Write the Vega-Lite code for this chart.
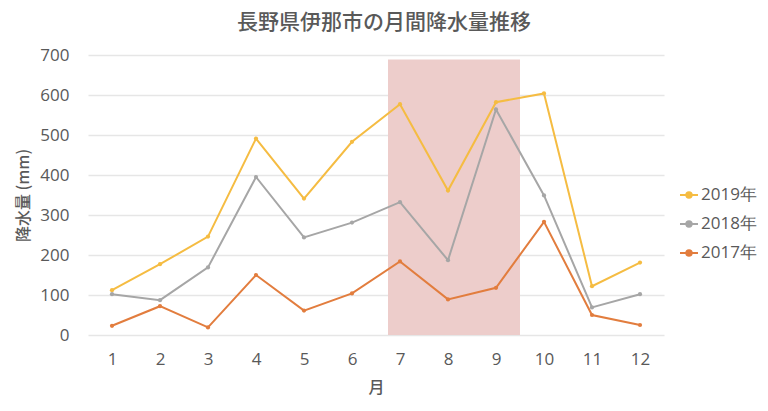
{
  "$schema": "https://vega.github.io/schema/vega-lite/v6.json",
  "autosize": "none",
  "width": 576,
  "height": 280,
  "padding": {"left": 88, "top": 55, "right": 104, "bottom": 76},
  "background": "white",
  "title": {
    "text": "長野県伊那市の月間降水量推移",
    "font": "Noto Sans CJK JP",
    "fontSize": 21,
    "fontWeight": 500,
    "color": "#595959",
    "anchor": "middle",
    "dx": 8,
    "offset": 13
  },
  "datasets": {
    "rain": [
      {"month": 1, "year": "2019年", "mm": 112},
      {"month": 2, "year": "2019年", "mm": 177},
      {"month": 3, "year": "2019年", "mm": 246},
      {"month": 4, "year": "2019年", "mm": 491},
      {"month": 5, "year": "2019年", "mm": 341},
      {"month": 6, "year": "2019年", "mm": 483},
      {"month": 7, "year": "2019年", "mm": 577},
      {"month": 8, "year": "2019年", "mm": 361},
      {"month": 9, "year": "2019年", "mm": 582},
      {"month": 10, "year": "2019年", "mm": 604},
      {"month": 11, "year": "2019年", "mm": 122},
      {"month": 12, "year": "2019年", "mm": 181},
      {"month": 1, "year": "2018年", "mm": 102},
      {"month": 2, "year": "2018年", "mm": 87},
      {"month": 3, "year": "2018年", "mm": 169},
      {"month": 4, "year": "2018年", "mm": 395},
      {"month": 5, "year": "2018年", "mm": 244},
      {"month": 6, "year": "2018年", "mm": 281},
      {"month": 7, "year": "2018年", "mm": 332},
      {"month": 8, "year": "2018年", "mm": 187},
      {"month": 9, "year": "2018年", "mm": 564},
      {"month": 10, "year": "2018年", "mm": 349},
      {"month": 11, "year": "2018年", "mm": 69},
      {"month": 12, "year": "2018年", "mm": 102},
      {"month": 1, "year": "2017年", "mm": 23},
      {"month": 2, "year": "2017年", "mm": 72},
      {"month": 3, "year": "2017年", "mm": 19},
      {"month": 4, "year": "2017年", "mm": 150},
      {"month": 5, "year": "2017年", "mm": 61},
      {"month": 6, "year": "2017年", "mm": 104},
      {"month": 7, "year": "2017年", "mm": 184},
      {"month": 8, "year": "2017年", "mm": 89},
      {"month": 9, "year": "2017年", "mm": 118},
      {"month": 10, "year": "2017年", "mm": 283},
      {"month": 11, "year": "2017年", "mm": 50},
      {"month": 12, "year": "2017年", "mm": 25}
    ],
    "band": [{"month": 6.75, "end": 9.5, "mm": 0, "top": 689}]
  },
  "encoding": {
    "x": {
      "field": "month",
      "type": "quantitative",
      "title": "月",
      "scale": {"domain": [0.5, 12.5], "nice": false, "zero": false},
      "axis": {
        "tickCount": 12,
        "tickMinStep": 1,
        "grid": false,
        "ticks": false,
        "domain": false,
        "labelFontSize": 17,
        "labelPadding": 16,
        "titlePadding": 12
      }
    },
    "y": {
      "field": "mm",
      "type": "quantitative",
      "title": "降水量 (mm)",
      "scale": {"domain": [0, 700], "nice": false},
      "axis": {
        "tickCount": 8,
        "tickMinStep": 100,
        "ticks": false,
        "domain": false,
        "labelOverlap": false,
        "labelFontSize": 17,
        "labelPadding": 19,
        "titlePadding": 8
      }
    }
  },
  "layer": [
    {
      "data": {"name": "band"},
      "mark": {"type": "rect", "color": "#EDCDCB"},
      "encoding": {
        "x2": {"field": "end"},
        "y2": {"field": "top"}
      }
    },
    {
      "data": {"name": "rain"},
      "mark": {"type": "line", "strokeWidth": 2, "point": {"filled": true, "size": 18}},
      "encoding": {
        "color": {
          "field": "year",
          "type": "nominal",
          "scale": {
            "domain": ["2019年", "2018年", "2017年"],
            "range": ["#F5BC42", "#A6A6A6", "#E27D3E"]
          },
          "legend": {
            "title": null,
            "orient": "none",
            "legendX": 591,
            "legendY": 130,
            "symbolType": "M-1,0H1M-0.3,0A0.3,0.3 0 1 1 0.3,0A0.3,0.3 0 1 1 -0.3,0",
            "symbolSize": 324,
            "symbolStrokeWidth": 2,
            "rowPadding": 11,
            "labelOffset": 2,
            "labelFontSize": 17
          }
        }
      }
    }
  ],
  "config": {
    "view": {"stroke": null},
    "font": "Open Sans",
    "axis": {
      "labelFont": "Open Sans",
      "labelColor": "#595959",
      "titleFont": "Noto Sans CJK JP",
      "titleFontSize": 16,
      "titleFontWeight": 500,
      "titleColor": "#595959",
      "gridColor": "#E6E6E6",
      "gridWidth": 1.5
    },
    "legend": {
      "labelFont": "Open Sans",
      "labelColor": "#595959"
    }
  }
}
